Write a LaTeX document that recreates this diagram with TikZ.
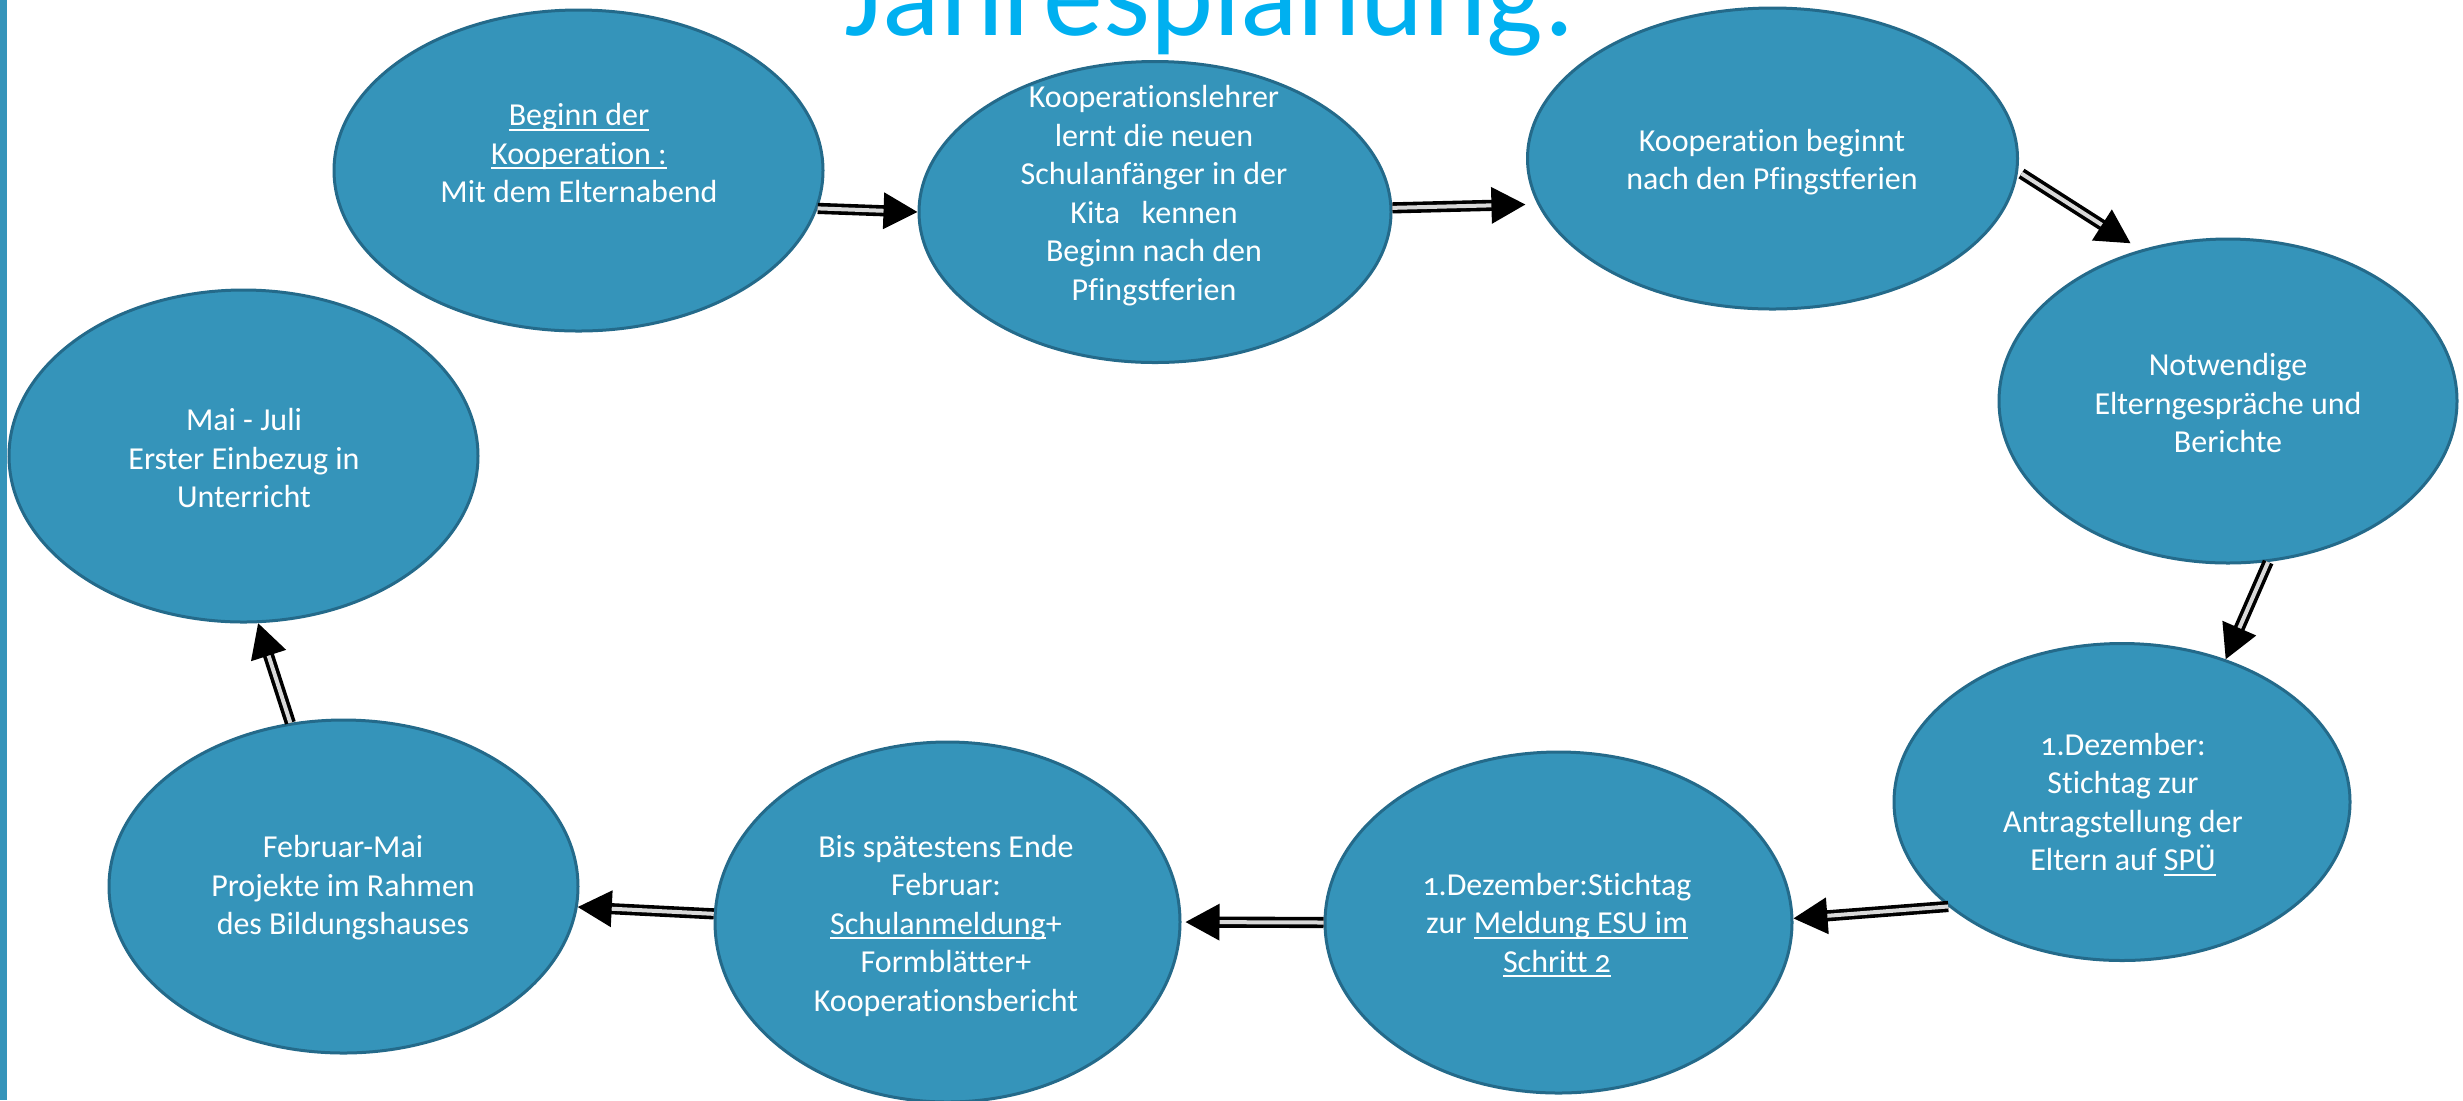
\documentclass[tikz,border=0pt]{standalone}
\usepackage{fontspec}
\setmainfont{Carlito}[Numbers=OldStyle,Ligatures=NoCommon]
\usetikzlibrary{arrows.meta,shapes.geometric}
\definecolor{ellfill}{HTML}{3594BA}
\definecolor{elldraw}{HTML}{246A8A}
\definecolor{titleblue}{HTML}{00B0F0}
\newlength\ulwd
\newcommand\myul[1]{\settowidth\ulwd{#1}\rlap{\rule[-0.16em]{\ulwd}{0.055em}}#1}
\begin{document}
\begin{tikzpicture}[x=0.5pt,y=-0.5pt,
  ell/.style={ellipse, fill=ellfill, draw=elldraw, line width=1.5pt, inner sep=0pt},
  txt/.style={text=white, align=center, font={\fontsize{16pt}{19.25pt}\selectfont}, inner sep=0pt},
  flow/.style={draw=black, line width=1.8pt, double=black!15, double distance=2pt, -{Triangle[length=17pt,width=18pt]}},
]
\useasboundingbox (0,0) rectangle (2463,1100);
\clip (0,0) rectangle (2463,1100);
\fill[ellfill] (0,0) rectangle (7,1100);
\node[font={\fontsize{60pt}{60pt}\selectfont}, text=titleblue, anchor=base, inner sep=0pt] (title) at (1210,35) {Jahresplanung:};

\node[ell, minimum width=244.5pt, minimum height=160.5pt] (e1) at (578.5,170.5) {};
\node[ell, minimum width=236pt, minimum height=150.5pt] (e2) at (1155,212) {};
\node[ell, minimum width=245pt, minimum height=150.5pt] (e3) at (1772.5,158.5) {};
\node[ell, minimum width=229pt, minimum height=162pt] (e4) at (2228,401) {};
\node[ell, minimum width=228pt, minimum height=158.5pt] (e5) at (2122,802) {};
\node[ell, minimum width=233.5pt, minimum height=170.5pt] (e6) at (1558.5,922.5) {};
\node[ell, minimum width=232.5pt, minimum height=180pt] (e7) at (947.5,922) {};
\node[ell, minimum width=234.5pt, minimum height=166.5pt] (e8) at (343.5,886.5) {};
\node[ell, minimum width=234.5pt, minimum height=166pt] (e9) at (243.5,456) {};

\draw[flow] (e1.-9) -- (e2.180);
\draw[flow, shorten >=6pt] (e2.1) -- (e3.191);
\draw[flow, shorten <=2pt, shorten >=6pt] (e3.-3) -- (e4.120);
\draw[flow] (e4.-76) -- (e5.54);
\draw[flow] (e5.211) -- (e6.1);
\draw[flow, shorten >=2pt] (e6.180) -- (e7.0);
\draw[flow] (e7.178) -- (e8.-5);
\draw[flow] (e8.108) -- (e9.-85);

\node[txt] (t1) at (579,153) {\myul{Beginn der}\\\myul{Kooperation :}\\Mit dem Elternabend};
\node[txt] (t2) at (1154,195.5) {Kooperationslehrer\\lernt die neuen\\Schulanfänger in der\\Kita\ \ \ kennen\\Beginn nach den\\Pfingstferien};
\node[txt] (t3) at (1772,162) {Kooperation beginnt\\nach den Pfingstferien};
\node[txt] (t4) at (2228,403) {Notwendige\\Elterngespräche und\\Berichte};
\node[txt] (t5) at (2123,804.5) {1.Dezember:\\Stichtag zur\\Antragstellung der\\Eltern auf \myul{SPÜ}};
\node[txt] (t6) at (1557,925) {1.Dezember:Stichtag\\zur \myul{Meldung ESU im}\\\myul{Schritt 2}};
\node[txt] (t7) at (946,925.5) {Bis spätestens Ende\\Februar:\\\myul{Schulanmeldung}+\\Formblätter+\\Kooperationsbericht};
\node[txt] (t8) at (343,888) {Februar-Mai\\Projekte im Rahmen\\des Bildungshauses};
\node[txt] (t9) at (244,458) {Mai - Juli\\Erster Einbezug in\\Unterricht};
\end{tikzpicture}
\end{document}
